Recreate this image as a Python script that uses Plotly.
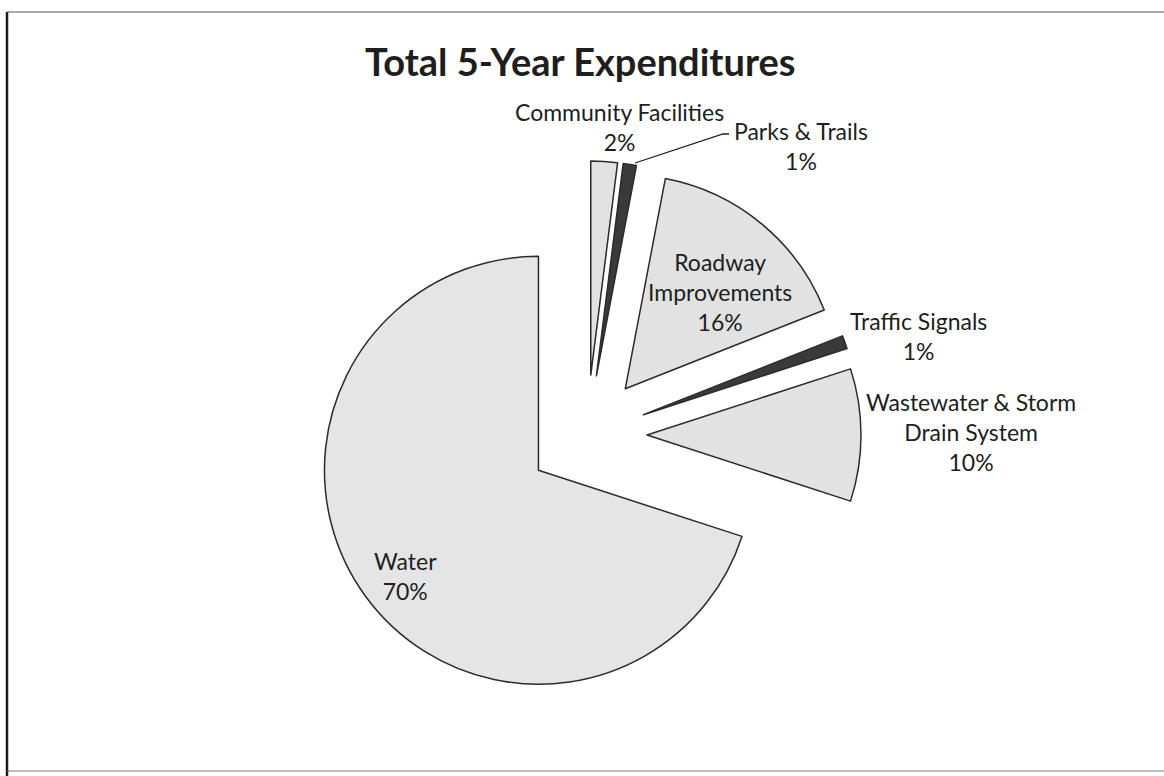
import plotly.graph_objects as go

# Capital budget breakdown, share of the 5-year total (percent)
categories = [
    "Community Facilities",
    "Parks & Trails",
    "Roadway<br>Improvements",
    "Traffic Signals",
    "Wastewater & Storm<br>Drain System",
    "Water",
]
shares = [2, 1, 16, 1, 10, 70]

W, H = 1164, 776


def px(x):
    return x / W


def py(y):
    return 1 - y / H


# Pie geometry (pixels): centre, radius and explosion distance of every slice
cx, cy, radius, explode = 587, 435, 214, 60
pull = explode / radius
half = radius * (1 + pull)

slice_colors = ["#e2e2e2", "#3a3a3a", "#e2e2e2", "#3a3a3a", "#e2e2e2", "#e5e5e5"]

fig = go.Figure()
fig.add_trace(
    go.Pie(
        labels=categories,
        values=shares,
        sort=False,
        direction="clockwise",
        rotation=0,
        pull=[pull] * len(shares),
        marker=dict(colors=slice_colors, line=dict(color="#2b2b2b", width=1.5)),
        textinfo="none",
        hoverinfo="skip",
        showlegend=False,
        domain=dict(
            x=[px(cx - half), px(cx + half)],
            y=[py(cy + half), py(cy - half)],
        ),
    )
)

# Label anchor points (pixel centres of each text block)
label_pos = [(619, 127), (801, 146), (720, 292), (918, 336), (971, 432), (405, 576)]

annotations = []
for name, val, (lx, ly) in zip(categories, shares, label_pos):
    annotations.append(
        dict(
            x=px(lx), y=py(ly), xref="paper", yref="paper",
            text=f"{name}<br>{val}%", showarrow=False,
            xanchor="center", yanchor="middle", align="center",
            font=dict(family="Lato", size=23, color="#1e1e1e"),
        )
    )

annotations.append(
    dict(
        x=px(580), y=py(61), xref="paper", yref="paper",
        text="<b>Total 5-Year Expenditures</b>", showarrow=False,
        xanchor="center", yanchor="middle",
        font=dict(family="Lato", size=38, color="#1e1e1e"),
    )
)

shapes = [
    # leader line for the smallest top slice
    dict(type="path", xref="paper", yref="paper",
         path=f"M {px(635)} {py(163)} L {px(723)} {py(134)} L {px(729)} {py(134)}",
         line=dict(color="#1e1e1e", width=1.3)),
    # chart frame
    dict(type="line", xref="paper", yref="paper", x0=px(7), x1=px(7), y0=py(12), y1=py(776),
         line=dict(color="#1a1a1a", width=2.5)),
    dict(type="line", xref="paper", yref="paper", x0=px(7), x1=px(1164), y0=py(12), y1=py(12),
         line=dict(color="#555555", width=1.2)),
    dict(type="line", xref="paper", yref="paper", x0=px(7), x1=px(1164), y0=py(771), y1=py(771),
         line=dict(color="#777777", width=1.2)),
]

fig.update_layout(
    width=W,
    height=H,
    margin=dict(l=0, r=0, t=0, b=0),
    paper_bgcolor="white",
    plot_bgcolor="white",
    annotations=annotations,
    shapes=shapes,
)

fig.write_html("out.html")
